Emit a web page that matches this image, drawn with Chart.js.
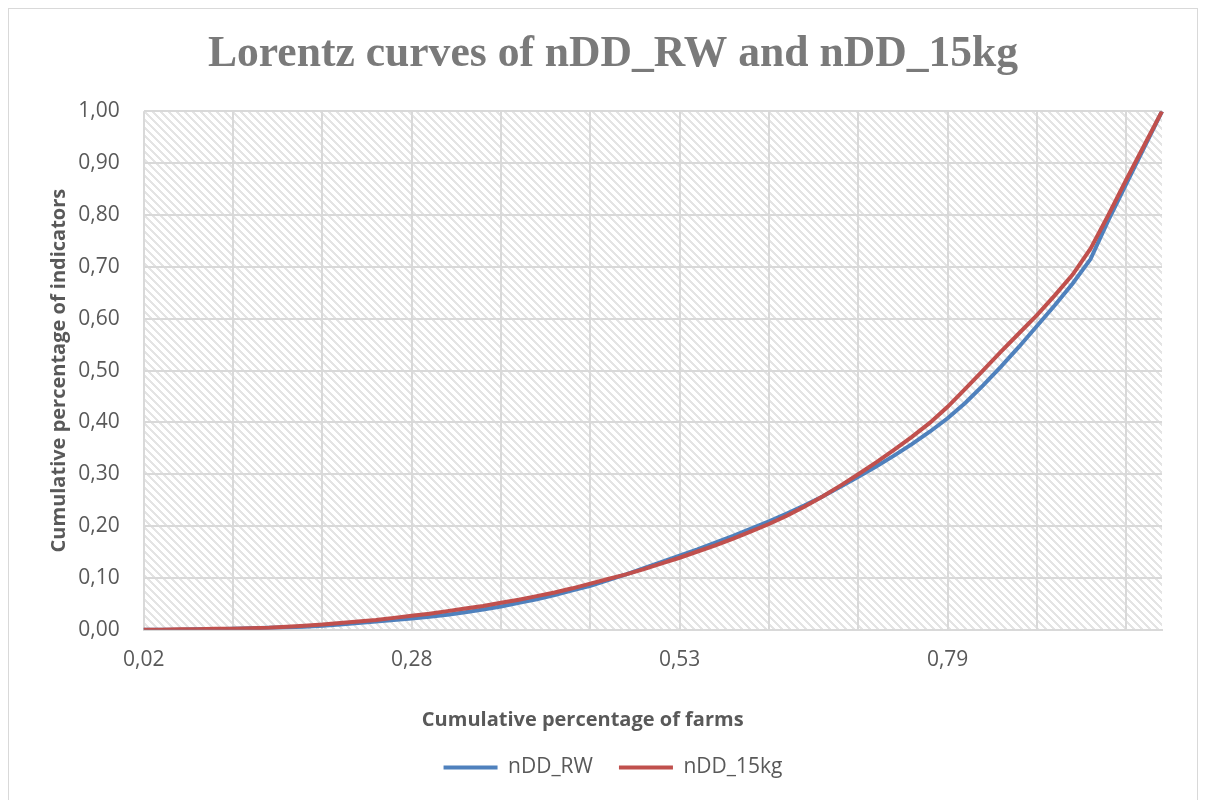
<!DOCTYPE html>
<html><head><meta charset="utf-8">
<script src="https://cdn.jsdelivr.net/npm/chart.js@4.4.1/dist/chart.umd.min.js"></script>
<style>
html,body{margin:0;padding:0;background:#fff;}
#wrap{position:relative;width:1206px;height:800px;overflow:hidden;background:#fff;}
#frame{position:absolute;left:8px;top:8px;width:1190px;height:830px;border:1px solid #d9d9d9;box-sizing:border-box;}
canvas{position:absolute;left:0;top:0;}
</style></head><body>
<div id="wrap"><div id="frame"></div><canvas id="c" width="1206" height="800"></canvas></div>
<script>
// Cumulative percentage of farms (category axis)
const categories = ["0,02","0,03","0,05","0,07","0,09","0,10","0,12","0,14","0,16","0,17",
"0,19","0,21","0,22","0,24","0,26","0,28","0,29","0,31","0,33","0,34",
"0,36","0,38","0,40","0,41","0,43","0,45","0,47","0,48","0,50","0,52",
"0,53","0,55","0,57","0,59","0,60","0,62","0,64","0,66","0,67","0,69",
"0,71","0,72","0,74","0,76","0,78","0,79","0,81","0,83","0,84","0,86",
"0,88","0,90","0,91","0,93","0,95","0,97","0,98","1,00"];

const nDD_RW = [0.000,0.000,0.000,0.001,0.001,0.002,0.003,0.004,0.005,0.006,
0.008,0.010,0.013,0.016,0.019,0.022,0.025,0.029,0.034,0.039,
0.045,0.052,0.059,0.067,0.076,0.085,0.096,0.107,0.119,0.131,
0.143,0.155,0.168,0.181,0.195,0.209,0.224,0.240,0.257,0.276,
0.295,0.315,0.336,0.358,0.382,0.408,0.438,0.472,0.508,0.546,
0.586,0.626,0.668,0.715,0.790,0.860,0.930,1.000];

const nDD_15kg = [0.000,0.000,0.001,0.001,0.002,0.002,0.003,0.004,0.006,0.008,
0.010,0.013,0.016,0.019,0.023,0.027,0.031,0.036,0.041,0.046,
0.052,0.058,0.065,0.072,0.080,0.089,0.098,0.107,0.117,0.128,
0.139,0.151,0.163,0.176,0.190,0.204,0.220,0.238,0.257,0.278,
0.300,0.323,0.347,0.372,0.399,0.430,0.465,0.501,0.537,0.572,
0.607,0.645,0.685,0.735,0.800,0.868,0.934,1.000];

const seriesNames = ["nDD_RW","nDD_15kg"];
const seriesColors = ["#4f81bd","#c0504d"];
const yMin = 0, yMax = 1, yStep = 0.1;
const labelEvery = 15, gridEvery = 5;

const TICK = '#595959';
const GRID = '#d9d9d9';
const FONT = '"Open Sans", sans-serif';

function hatchTile(){
  const c = document.createElement('canvas'); c.width = 8; c.height = 8;
  const g = c.getContext('2d');
  g.fillStyle = '#ffffff'; g.fillRect(0,0,8,8);
  g.fillStyle = '#e4e4e4';
  for (let y=0;y<8;y++) for (let x=0;x<8;x++) if ((((x-y)%8)+8)%8 < 3) g.fillRect(x,y,1,1);
  return c;
}
const hatchPlugin = {
  id:'hatch',
  beforeDraw(chart){
    const {ctx, chartArea:a} = chart;
    ctx.save();
    ctx.fillStyle = ctx.createPattern(hatchTile(),'repeat');
    ctx.fillRect(a.left, a.top, a.right-a.left, a.bottom-a.top);
    ctx.restore();
  }
};

new Chart(document.getElementById('c'), {
  type:'line',
  data:{
    labels: categories,
    datasets:[
      {label:seriesNames[0], data:nDD_RW, borderColor:seriesColors[0], backgroundColor:seriesColors[0], borderWidth:4, pointRadius:0, tension:0, order:2},
      {label:seriesNames[1], data:nDD_15kg, borderColor:seriesColors[1], backgroundColor:seriesColors[1], borderWidth:4, pointRadius:0, tension:0, order:1}
    ]
  },
  options:{
    responsive:false, animation:false,
    layout:{padding:{left:64, right:44, top:0, bottom:12}},
    plugins:{
      title:{display:true, text:'Lorentz curves of nDD_RW and nDD_15kg', color:'#7a7a7a',
        font:{family:'"Liberation Serif", serif', size:43.6, weight:'bold'}, padding:{top:29, bottom:30}},
      legend:{position:'bottom',
        labels:{color:TICK, font:{family:FONT, size:21}, usePointStyle:true, pointStyle:'line', pointStyleWidth:54, boxHeight:4, padding:26,
          sort:(a,b)=>a.datasetIndex-b.datasetIndex}},
      tooltip:{enabled:false}
    },
    scales:{
      x:{
        type:'category', offset:false,
        grid:{drawTicks:false, lineWidth:2, color:(ctx)=> (ctx.index % gridEvery === 0) ? GRID : 'rgba(0,0,0,0)'},
        border:{display:true, color:'#d9d9d9', width:2},
        ticks:{autoSkip:false, maxRotation:0, minRotation:0, padding:18, color:TICK,
          font:{family:FONT, size:21},
          callback:function(v, i){ return (i % labelEvery === 0) ? this.getLabelForValue(v) : ''; }},
        title:{display:true, text:'Cumulative percentage of farms' + ' '.repeat(27), color:TICK,
          font:{family:FONT, size:20, weight:'bold'}, padding:{top:17, bottom:-1}}
      },
      y:{
        min:yMin, max:yMax,
        grid:{drawTicks:false, lineWidth:2, color:GRID},
        border:{display:false},
        ticks:{stepSize:yStep, padding:24, color:TICK, font:{family:FONT, size:21},
          callback:(v)=> Number(v).toFixed(2).replace('.',',')},
        title:{display:true, text:'Cumulative percentage of indicators', color:TICK,
          font:{family:FONT, size:20, weight:'bold'}, padding:{top:-17, bottom:10}},
        afterFit:(s)=>{ s.width = 79.7; }
      }
    }
  },
  plugins:[hatchPlugin]
});
</script>
</body></html>
